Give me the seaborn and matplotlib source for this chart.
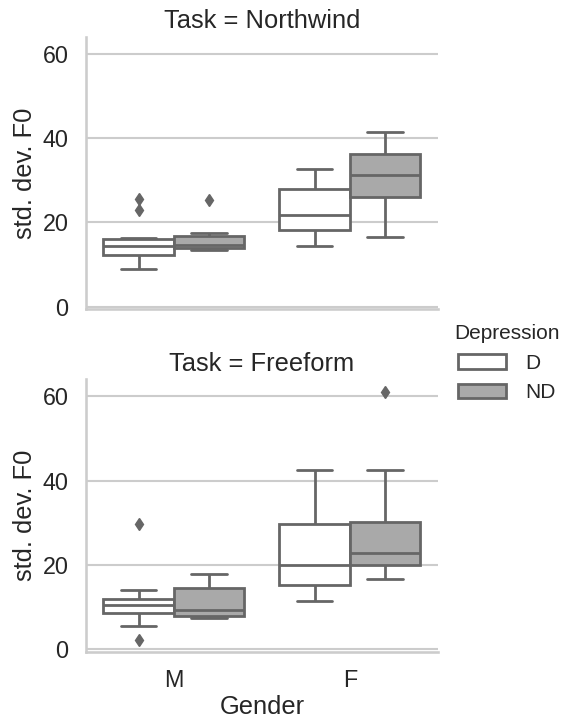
import matplotlib
matplotlib.use("Agg")
import matplotlib.pyplot as plt
import numpy as np
import pandas as pd
import seaborn as sns

# ---- data ----
tasks = ["Northwind", "Freeform"]
genders = ["M", "F"]
depression = ["D", "ND"]

northwind_m_d = [9.0, 10.8, 11.6, 12.3, 13.0, 13.8, 14.4, 15.0, 15.5, 16.0, 16.3, 23.0, 25.5]
northwind_m_nd = [13.3, 13.6, 14.0, 14.3, 14.7, 15.8, 16.8, 17.4, 25.3]
northwind_f_d = [14.4, 16.3, 18.2, 20.0, 21.8, 24.8, 27.8, 30.3, 32.7]
northwind_f_nd = [16.4, 21.5, 26.0, 28.8, 31.3, 33.8, 36.3, 39.0, 41.4]
freeform_m_d = [2.3, 5.6, 7.5, 8.6, 9.3, 9.9, 10.4, 10.9, 11.4, 11.9, 12.8, 14.1, 29.7]
freeform_m_nd = [7.4, 7.6, 7.9, 8.6, 9.3, 12.0, 14.6, 16.0, 17.8]
freeform_f_d = [11.4, 13.0, 15.2, 17.5, 19.9, 25.0, 29.7, 36.0, 42.6]
freeform_f_nd = [16.7, 18.5, 20.0, 21.5, 22.8, 26.0, 30.3, 42.6, 61.1]

groups = {
    ("Northwind", "M", "D"): northwind_m_d,
    ("Northwind", "M", "ND"): northwind_m_nd,
    ("Northwind", "F", "D"): northwind_f_d,
    ("Northwind", "F", "ND"): northwind_f_nd,
    ("Freeform", "M", "D"): freeform_m_d,
    ("Freeform", "M", "ND"): freeform_m_nd,
    ("Freeform", "F", "D"): freeform_f_d,
    ("Freeform", "F", "ND"): freeform_f_nd,
}
rows = []
for (t, g_, d), vals in groups.items():
    for v in vals:
        rows.append({"Task": t, "Gender": g_, "Depression": d, "std. dev. F0": v})
df = pd.DataFrame(rows)

# ---- style ----
sns.set_theme(context="talk", style="whitegrid")
plt.rcParams["font.family"] = ["Liberation Sans", "DejaVu Sans"]
plt.rcParams["xtick.labelsize"] = 16.8
plt.rcParams["ytick.labelsize"] = 16.8
plt.rcParams["axes.labelsize"] = 18.4
plt.rcParams["axes.titlesize"] = 18.5

line_gray = "#666666"
g = sns.catplot(
    data=df, x="Gender", y="std. dev. F0", hue="Depression", row="Task",
    kind="box", order=genders, hue_order=depression, row_order=tasks,
    palette=["white", "darkgray"], linecolor=line_gray, linewidth=2,
    flierprops={"marker": "d", "markersize": 6.5,
                "markerfacecolor": line_gray, "markeredgecolor": line_gray},
    height=3.6, aspect=1.3,
)

fig = g.figure
fig.set_size_inches(5.65, 7.18)
fig.subplots_adjust(left=0.152, right=0.775, top=0.949, bottom=0.092, hspace=0.257)

for ax in g.axes.flat:
    ax.set_yticks([0, 20, 40, 60])
    ax.xaxis.grid(False)
g.axes.flat[-1].xaxis.labelpad = 2

sns.move_legend(g, "center left", bbox_to_anchor=(0.789, 0.494), frameon=False,
                fontsize=15, title_fontsize=15, borderaxespad=0,
                handlelength=2.3, handletextpad=0.9)

fig.savefig("out.png", dpi=100)
